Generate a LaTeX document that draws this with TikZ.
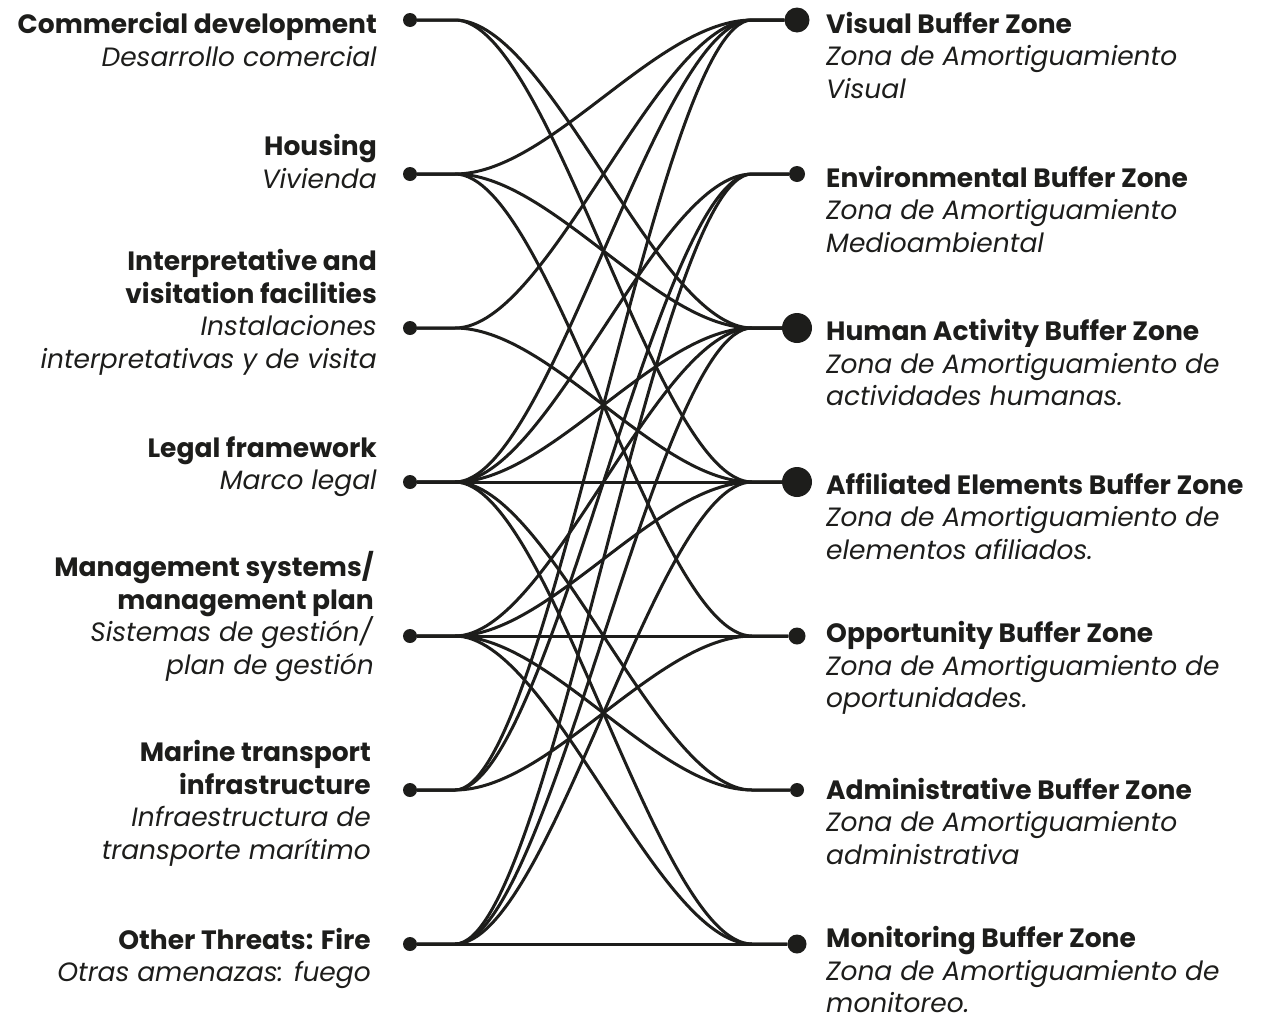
\documentclass[tikz,border=0pt]{standalone}
\usepackage{fontspec}
\setmainfont{Poppins}
\definecolor{dkink}{HTML}{1D1D1B}

\begin{document}
\begin{tikzpicture}[x=1pt,y=-1pt,
  dot/.style={circle,fill=dkink,inner sep=0pt,minimum size=#1},
  link/.style={draw=dkink,line width=3pt},
  lbl/.style={font=\fontsize{26.5}{32.5}\selectfont,text=dkink,inner sep=0pt}]
  \useasboundingbox (0,0) rectangle (1285,1018);
  % dots, left and right
  \foreach \k in {1,...,7}{
    \node[dot=14pt] (l\k) at (410,{20+154*(\k-1)}) {};
    \coordinate (la\k) at (455,{20+154*(\k-1)});
    \coordinate (ra\k) at (752,{20+154*(\k-1)});
  }
  \foreach \k/\d in {1/25,2/16,3/30,4/30,5/17,6/14,7/19}{
    \node[dot=\d pt] (r\k) at (797,{20+154*(\k-1)}) {};
  }
  % links
  \foreach \a/\b in {1/3,1/4,2/1,2/3,2/5,3/1,3/4,4/1,4/2,4/3,4/4,4/6,4/7,
                     5/3,5/4,5/5,5/6,5/7,6/1,6/2,6/5,7/2,7/3,7/4,7/7}{
    \draw[link] (l\a) -- (la\a) .. controls +(95,0) and +(-95,0) .. (ra\b) -- (r\b);
  }
  % labels left
  \node[lbl,anchor=east,align=right] (t1) at (377,39.5) {\textbf{Commercial development}\\\textit{Desarrollo comercial}};
  \node[lbl,anchor=east,align=right] (t2) at (377,161.5) {\textbf{Housing}\\\textit{Vivienda}};
  \node[lbl,anchor=east,align=right] (t3) at (377,312.5) {\textbf{Interpretative and}\\\textbf{visitation facilities}\\\textit{Instalaciones}\\\textit{interpretativas y de visita}};
  \node[lbl,anchor=east,align=right] (t4) at (377,466.5) {\textbf{Legal framework}\\\textit{Marco legal}};
  \node[lbl,anchor=east,align=right] (t5) at (374,616.5) {\textbf{Management systems/}\\\textbf{management plan}\\\textit{Sistemas de gestión/}\\\textit{plan de gestión}};
  \node[lbl,anchor=east,align=right] (t6) at (371,803.5) {\textbf{Marine transport}\\\textbf{infrastructure}\\\textit{Infraestructura de}\\\textit{transporte marítimo}};
  \node[lbl,anchor=east,align=right] (t7) at (371,958.5) {\textbf{Other Threats: Fire}\\\textit{Otras amenazas: fuego}};
  % labels right
  \node[lbl,anchor=west,align=left] (s1) at (826,55.5) {\textbf{Visual Buffer Zone}\\\textit{Zona de Amortiguamiento}\\\textit{Visual}};
  \node[lbl,anchor=west,align=left] (s2) at (826,209) {\textbf{Environmental Buffer Zone}\\\textit{Zona de Amortiguamiento}\\\textit{Medioambiental}};
  \node[lbl,anchor=west,align=left] (s3) at (826,362.5) {\textbf{Human Activity Buffer Zone}\\\textit{Zona de Amortiguamiento de}\\\textit{actividades humanas.}};
  \node[lbl,anchor=west,align=left] (s4) at (826,516) {\textbf{Affiliated Elements Buffer Zone}\\\textit{Zona de Amortiguamiento de}\\\textit{elementos afiliados.}};
  \node[lbl,anchor=west,align=left] (s5) at (826,668) {\textbf{Opportunity Buffer Zone}\\\textit{Zona de Amortiguamiento de}\\\textit{oportunidades.}};
  \node[lbl,anchor=west,align=left] (s6) at (826,821) {\textbf{Administrative Buffer Zone}\\\textit{Zona de Amortiguamiento}\\\textit{administrativa}};
  \node[lbl,anchor=west,align=left] (s7) at (826,969.5) {\textbf{Monitoring Buffer Zone}\\\textit{Zona de Amortiguamiento de}\\\textit{monitoreo.}};
\end{tikzpicture}
\end{document}
